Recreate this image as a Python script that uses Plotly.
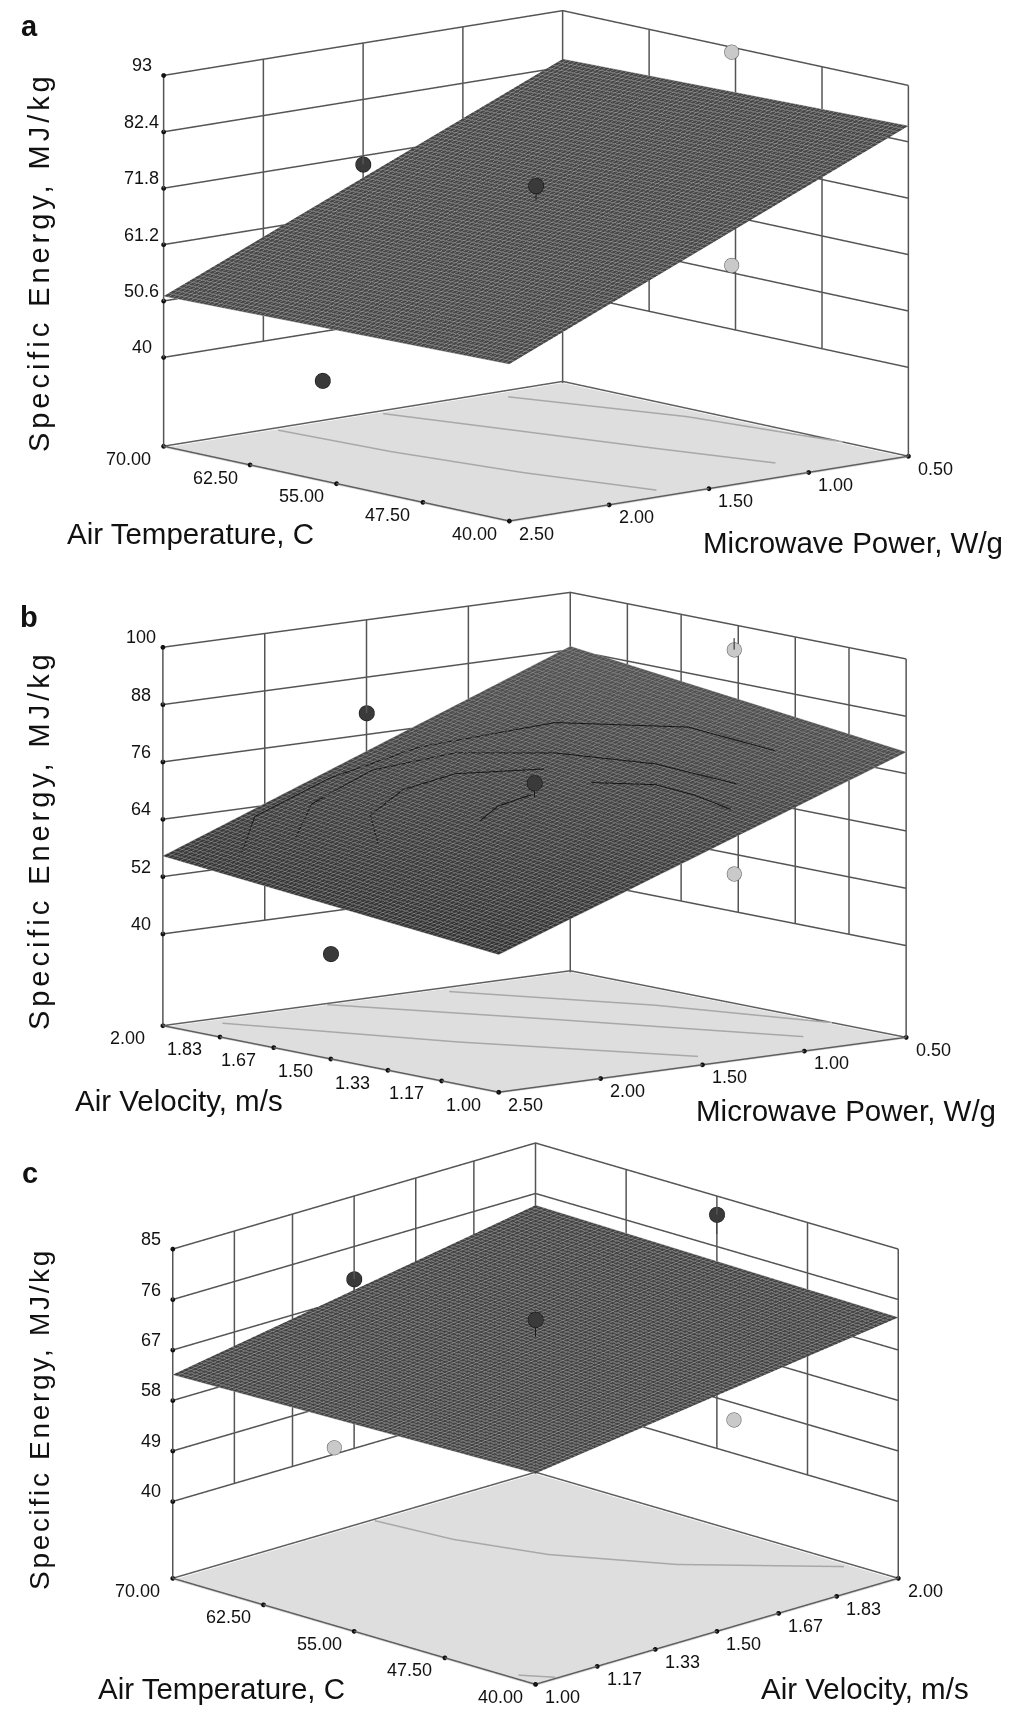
import plotly.graph_objects as go
import math

# ---------- data ----------
power_ticks = [2.5, 2.0, 1.5, 1.0, 0.5]
temp_ticks = [70, 62.5, 55, 47.5, 40]
vel_ticks = [2.0, 1.83, 1.67, 1.5, 1.33, 1.17, 1.0]
vel_ticks_c = [1.0, 1.17, 1.33, 1.5, 1.67, 1.83, 2.0]
z_a = [40, 50.6, 61.2, 71.8, 82.4, 93]
z_b = [40, 52, 64, 76, 88, 100]
z_c = [40, 49, 58, 67, 76, 85]

# surface corners: rows = y axis value, cols = x axis value
a_x = [0.5, 2.5]; a_y = [40, 70]; a_z = [[85.4, 52.8], [83.9, 51.5]]
b_x = [0.5, 2.5]; b_y = [1.0, 2.0]; b_z = [[80.5, 49.6], [88.7, 56.3]]
c_x = [1.0, 2.0]; c_y = [40, 70]; c_z = [[63.9, 72.8], [62.6, 73.9]]

# design points (x, y, z)
a_light = ([0.52, 0.52], [55, 55], [92.4, 52.3])
a_dark = ([1.5, 1.5, 2.5], [70, 55, 56.2], [70.2, 73.2, 42.1])
b_light = ([0.52, 0.52], [1.5, 1.5], [95.1, 48.2])
b_dark = ([1.5, 1.5, 2.5], [2.0, 1.5, 1.5], [80.5, 72.8, 42.8])
c_light = ([2.0, 1.445], [53.6, 70], [46, 41.2])
c_dark = ([2.0, 1.5, 1.5], [55, 70, 55], [81.7, 70.2, 72.4])

# short stems from the points towards the surface (x, y, z_from, z_to)
a_stems = [(1.5, 55, 73.2, 70.4)]
b_stems = [(0.52, 1.5, 95.1, 97.5), (1.5, 1.5, 72.8, 69.8)]
c_stems = [(2.0, 55, 81.7, 78.2), (1.5, 55, 72.4, 69.4), (1.5, 70, 70.2, 67.8)]

# floor contours
a_floor = [([1.96, 1.92, 1.82, 1.67], [69.4, 60.3, 50.6, 41.6]),
           ([1.44, 1.29, 1.12, 0.97], [69.3, 60.9, 51.2, 43.4]),
           ([0.86, 0.61, 0.5], [68.5, 57.3, 45.7])]
b_floor = [([2.29, 1.88, 1.39], [1.95, 1.5, 1.08]),
           ([1.71, 1.26, 0.79], [1.99, 1.58, 1.13]),
           ([1.16, 0.76, 0.5], [1.96, 1.59, 1.22])]
c_floor = [([1.55, 1.57, 1.63, 1.76, 1.98], [69.8, 63.9, 57.8, 51.1, 43.9]),
           ([1.02, 1.06], [42, 40.2])]

# contours on surface b (P, V, z)
b_arcs = [
    ([2.37, 2.13, 1.77, 1.41, 1.02, 0.81, 0.80], [1.845, 1.95, 1.95, 1.90, 1.73, 1.46, 1.21], [58.3, 63.2, 69.0, 74.2, 79.5, 81.1, 79.6]),
    ([2.18, 1.95, 1.64, 1.38, 1.20, 1.09, 1.07], [1.80, 1.89, 1.90, 1.81, 1.62, 1.39, 1.16], [61.0, 65.6, 70.7, 74.1, 75.7, 76.0, 74.9]),
    ([2.07, 1.91, 1.70, 1.51, 1.32], [1.62, 1.74, 1.77, 1.73, 1.58], [61.7, 65.1, 68.8, 71.6, 73.6]),
    ([1.75, 1.63, 1.50], [1.51, 1.53, 1.51], [66.2, 68.3, 70.2]),
    ([1.32, 1.22, 1.21, 1.23], [1.44, 1.31, 1.20, 1.08], [72.7, 73.5, 72.8, 71.6]),
]

W, H = 1009, 1711
FONT = "Liberation Sans"
GRID = "#555555"
PAD = 0.02


def camera(az, el, sx, sy, unit):
    dist = 6.0
    t, e = math.radians(az), math.radians(el)
    s = math.sin(e)
    R = (math.sin(t), -math.cos(t), 0.0)
    U = (math.cos(t) * s, math.sin(t) * s, math.cos(e))
    cen = [-(sx / unit) * R[i] - (sy / unit) * U[i] for i in range(3)]
    d = (-math.cos(e) * math.cos(t), -math.cos(e) * math.sin(t), s)
    eye = [cen[i] + dist * d[i] for i in range(3)]
    return dict(eye=dict(x=eye[0], y=eye[1], z=eye[2]),
                center=dict(x=cen[0], y=cen[1], z=cen[2]),
                up=dict(x=0, y=0, z=1),
                projection=dict(type="orthographic"))


fig = go.Figure()


def panel(name, xr, yr, zr, xwall, ywall, zticks, sx_, sy_, sz_, lt, dk, stems, floors,
          xt, yt, xtext, ytext, ztext, view, plan, zpx, dom, shades):
    scene = name
    xlo, xhi = xr  # xlo at front, xhi at right
    yfront, yleft = yr
    zf, ztop = zr
    zmax = zticks[-1]
    zmin = zticks[0]
    unit = (dom[1] - dom[0]) / 2
    cam = camera(*view, unit)
    flat = dict(ambient=1, diffuse=0, specular=0, fresnel=0)
    # floor
    fig.add_trace(go.Surface(x=[xlo, xhi], y=[yfront, yleft], z=[[zf, zf], [zf, zf]], scene=scene,
                             colorscale=[[0, "#dedede"], [1, "#dedede"]], showscale=False,
                             lighting=flat, hoverinfo="skip"))
    # surface
    fig.add_trace(go.Surface(x=sx_, y=sy_, z=sz_, scene=scene,
                             colorscale=[[0, shades[0]], [1, shades[1]]], showscale=False,
                             lighting=flat, hoverinfo="skip",
                             contours=dict(
                                 x=dict(show=True, start=min(xlo, xhi), end=max(xlo, xhi), size=abs(xhi - xlo) / 80, color=shades[2], width=2, highlight=False),
                                 y=dict(show=True, start=min(yfront, yleft), end=max(yfront, yleft), size=abs(yleft - yfront) / 80, color=shades[2], width=2, highlight=False),
                                 z=dict(highlight=False))))
    # walls: y = yleft plane and x = xhi plane
    xs, ys, zs = [], [], []
    for v in zticks:
        xs += [xlo, xhi, xhi, None]; ys += [yleft, yleft, yfront, None]; zs += [v, v, v, None]
    for v in xwall:
        xs += [v, v, None]; ys += [yleft, yleft, None]; zs += [zmin, zmax, None]
    for v in ywall:
        xs += [xhi, xhi, None]; ys += [v, v, None]; zs += [zmin, zmax, None]
    # corner posts to the floor
    for cx, cy in [(xlo, yleft), (xhi, yleft), (xhi, yfront)]:
        xs += [cx, cx, None]; ys += [cy, cy, None]; zs += [zf, zmax, None]
    fig.add_trace(go.Scatter3d(x=xs, y=ys, z=zs, scene=scene, mode="lines",
                               line=dict(color=GRID, width=3), hoverinfo="skip"))
    # floor edges
    lift = 0.3
    fig.add_trace(go.Scatter3d(x=[xlo, xhi, xhi, xlo, xlo], y=[yleft, yleft, yfront, yfront, yleft], z=[zf + lift] * 5,
                               scene=scene, mode="lines", line=dict(color="#5f5f5f", width=3), hoverinfo="skip"))
    # floor contours
    for fx, fy in floors:
        fig.add_trace(go.Scatter3d(x=fx, y=fy, z=[zf + lift] * len(fx), scene=scene, mode="lines",
                                   line=dict(color="#a8a8a8", width=3), hoverinfo="skip"))
    # tick dots
    fig.add_trace(go.Scatter3d(
        x=list(xt) + [xlo] * len(yt) + [xlo] * len(zticks),
        y=[yfront] * len(xt) + list(yt) + [yleft] * len(zticks),
        z=[zf + lift] * (len(xt) + len(yt)) + list(zticks),
        scene=scene, mode="markers", marker=dict(color="#111111", size=2.8), hoverinfo="skip"))
    # stems
    sx0, sy0, sz0 = [], [], []
    for px_, py_, z0, z1 in stems:
        sx0 += [px_, px_, None]; sy0 += [py_, py_, None]; sz0 += [z0, z1, None]
    fig.add_trace(go.Scatter3d(x=sx0, y=sy0, z=sz0, scene=scene, mode="lines",
                               line=dict(color="#1a1a1a", width=2), hoverinfo="skip"))
    # points
    fig.add_trace(go.Scatter3d(x=lt[0], y=lt[1], z=lt[2], scene=scene, mode="markers",
                               marker=dict(color="#c9c9c9", size=8.5, line=dict(color="#555555", width=1)), hoverinfo="skip"))
    fig.add_trace(go.Scatter3d(x=dk[0], y=dk[1], z=dk[2], scene=scene, mode="markers",
                               marker=dict(color="#3a3a3a", size=9, line=dict(color="#0c0c0c", width=1.5)), hoverinfo="skip"))
    ann = []
    tf = dict(family=FONT, size=18, color="#111111")
    for v, t in zip(xt, xtext):
        ann.append(dict(x=v, y=yfront, z=zf, text=t, showarrow=False, xshift=27, yshift=-11, font=tf))
    for v, t in zip(yt, ytext):
        ann.append(dict(x=xlo, y=v, z=zf, text=t, showarrow=False, xshift=-35, yshift=-11, font=tf))
    for v, t in zip(zticks, ztext):
        ann.append(dict(x=xlo, y=yleft, z=v, text=t, showarrow=False, xshift=-22, yshift=10, font=tf))
    ax = lambda rng: dict(visible=False, range=rng, showspikes=False)
    dx = (xhi - xlo) * PAD
    dy = (yleft - yfront) * PAD
    dz = (ztop - zf) * PAD
    fig.update_layout(**{scene: dict(
        domain=dict(x=[0, 1], y=[1 - dom[1] / H, 1 - dom[0] / H]),
        xaxis=ax([xlo - dx, xhi + dx]), yaxis=ax([yfront - dy, yleft + dy]), zaxis=ax([zf - dz, ztop + dz]),
        aspectmode="manual",
        aspectratio=dict(x=plan * (1 + 2 * PAD) / unit, y=plan * (1 + 2 * PAD) / unit, z=zpx * (1 + 2 * PAD) / unit),
        camera=cam, annotations=ann, bgcolor="rgba(0,0,0,0)")})


panel("scene", (2.5, 0.5), (40, 70), (23, 100), [2.0, 1.5, 1.0], [47.5, 55, 62.5], z_a,
      a_x[::-1], a_y, [r[::-1] for r in a_z], a_light, a_dark, a_stems, a_floor,
      power_ticks, temp_ticks,
      ["2.50", "2.00", "1.50", "1.00", "0.50"], ["70.00", "62.50", "55.00", "47.50", "40.00"],
      ["40", "50.6", "61.2", "71.8", "82.4", "93"],
      (49.1, 10.8, 23.5, 45), 528, 417, (0, 570), ("#474747", "#474747", "#9e9e9e"))
panel("scene2", (2.5, 0.5), (1.0, 2.0), (20.5, 100), [2.0, 1.5, 1.0], [1.17, 1.33, 1.5, 1.67, 1.83], z_b,
      b_x[::-1], b_y, [r[::-1] for r in b_z], b_light, b_dark, b_stems, b_floor,
      power_ticks, vel_ticks,
      ["2.50", "2.00", "1.50", "1.00", "0.50"], ["2.00", "1.83", "1.67", "1.50", "1.33", "1.17", "1.00"],
      ["40", "52", "64", "76", "88", "100"],
      (50.5, 9.4, 22, 20), 528, 385, (570, 1140), ("#323232", "#565656", "#8e8e8e"))
panel("scene3", (1.0, 2.0), (40, 70), (26, 85), [1.17, 1.33, 1.5, 1.67, 1.83], [47.5, 55, 62.5], z_c,
      c_x, c_y, c_z, c_light, c_dark, c_stems, c_floor,
      vel_ticks_c, temp_ticks,
      ["1.00", "1.17", "1.33", "1.50", "1.67", "1.83", "2.00"], ["70.00", "62.50", "55.00", "47.50", "40.00"],
      ["40", "49", "58", "67", "76", "85"],
      (45, 17, 23, -1), 513, 346, (1100, 1711), ("#444444", "#444444", "#989898"))

for arc in b_arcs:
    fig.add_trace(go.Scatter3d(x=arc[0], y=arc[1], z=arc[2], scene="scene2", mode="lines",
                               line=dict(color="#161616", width=2), hoverinfo="skip"))


def label(px, py, text, size, angle=0, family=FONT):
    fig.add_annotation(x=px / W, y=1 - py / H, xref="paper", yref="paper", text=text, showarrow=False,
                       textangle=angle, font=dict(family=family, size=size, color="#111111"),
                       xanchor="center", yanchor="middle")


label(21, 18, "<b>a</b>", 29)
label(21, 609, "<b>b</b>", 29)
label(22, 1165, "<b>c</b>", 29)
label(182, 525, "Air Temperature, C", 29.5)
label(845, 535, "Microwave Power, W/g", 29.5)
label(171, 1092, "Air Velocity, m/s", 29.5)
label(838, 1102, "Microwave Power, W/g", 29.5)
label(213, 1680, "Air Temperature, C", 29.5)
label(857, 1680, "Air Velocity, m/s", 29.5)
sp = '<span style="letter-spacing:%spx">Specific Energy, MJ/kg</span>'
label(31, 254, sp % 3.95, 29, angle=-90)
label(31, 832, sp % 3.95, 29, angle=-90)
label(31, 1411, sp % 2.7, 28, angle=-90)

fig.update_layout(width=W, height=H, margin=dict(l=0, r=0, t=0, b=0), showlegend=False,
                  paper_bgcolor="white", plot_bgcolor="white")
fig.write_html("out.html", config=dict(displayModeBar=False))
